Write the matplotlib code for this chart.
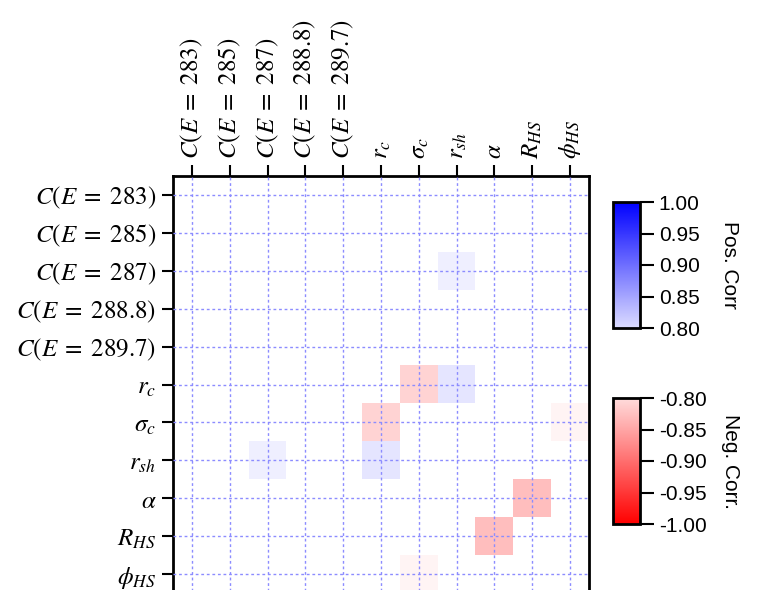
import matplotlib
matplotlib.use("Agg")
import matplotlib.pyplot as plt
import numpy as np
from matplotlib.colors import LinearSegmentedColormap, Normalize
from matplotlib.cm import ScalarMappable

plt.rcParams["mathtext.fontset"] = "stix"
plt.rcParams["axes.unicode_minus"] = False
plt.rcParams["font.family"] = ["Liberation Sans", "DejaVu Sans"]

labels = [r"$C(E\;=\;283)$", r"$C(E\;=\;285)$", r"$C(E\;=\;287)$",
          r"$C(E\;=\;288.8)$", r"$C(E\;=\;289.7)$", r"$r_c$", r"$\sigma_c$",
          r"$r_{sh}$", r"$\alpha$", r"$R_{HS}$", r"$\phi_{HS}$"]

# notable correlations (symmetric pairs), everything else is |corr| < 0.8
pair_rows = [2, 5, 5, 8, 6]
pair_cols = [7, 6, 7, 9, 10]
pair_vals = [0.815, -0.90, 0.845, -0.965, -0.80]

n = len(labels)
corr = np.full((n, n), np.nan)
for r, c, v in zip(pair_rows, pair_cols, pair_vals):
    corr[r, c] = v
    corr[c, r] = v

pos_cmap = LinearSegmentedColormap.from_list("pos", ["#dcdcff", "#0000ff"])
neg_cmap = LinearSegmentedColormap.from_list("neg", ["#ff0000", "#ffdcdc"])
pos_norm = Normalize(0.8, 1.0)
neg_norm = Normalize(-1.0, -0.8)

pos = np.ma.masked_where(~(corr > 0), corr)
neg = np.ma.masked_where(~(corr < 0), corr)

fig = plt.figure(figsize=(7.6, 5.9), dpi=100)
ax = fig.add_axes([173 / 760, -3 / 590, 416 / 760, 417 / 590])

ax.imshow(pos, cmap=pos_cmap, norm=pos_norm, alpha=0.3, aspect="auto",
          interpolation="nearest")
ax.imshow(neg, cmap=neg_cmap, norm=neg_norm, alpha=0.3, aspect="auto",
          interpolation="nearest")

ax.set_xticks(range(n))
ax.set_yticks(range(n))
ax.set_xticklabels(labels, rotation=90, fontsize=18)
ax.set_yticklabels(labels, fontsize=18)
ax.xaxis.tick_top()
ax.tick_params(length=8, width=1.5, color="black", pad=4)
ax.set_xlim(-0.5, n - 0.5)
ax.set_ylim(n - 0.5, -0.5)
ax.set_axisbelow(False)
ax.grid(True, color="#8c8cff", linestyle=(0, (2, 2)), linewidth=1)
for sp in ax.spines.values():
    sp.set_linewidth(2)

# colorbars
cax1 = fig.add_axes([613 / 760, (590 - 328) / 590, 27 / 760, 126 / 590])
cb1 = fig.colorbar(ScalarMappable(pos_norm, pos_cmap), cax=cax1)
cb1.set_ticks([0.80, 0.85, 0.90, 0.95, 1.00])
cb1.ax.set_yticklabels(["0.80", "0.85", "0.90", "0.95", "1.00"])
cb1.set_label("Pos. Corr", rotation=-90, fontsize=15, labelpad=28)

cax2 = fig.add_axes([613 / 760, (590 - 524) / 590, 27 / 760, 126 / 590])
cb2 = fig.colorbar(ScalarMappable(neg_norm, neg_cmap), cax=cax2)
cb2.set_ticks([-1.00, -0.95, -0.90, -0.85, -0.80])
cb2.ax.set_yticklabels(["-1.00", "-0.95", "-0.90", "-0.85", "-0.80"])
cb2.set_label("Neg. Corr.", rotation=-90, fontsize=15, labelpad=24)

for cb in (cb1, cb2):
    cb.outline.set_linewidth(2)
    cb.ax.tick_params(length=10, width=1.5, labelsize=15)

fig.savefig("out.png", dpi=100)
